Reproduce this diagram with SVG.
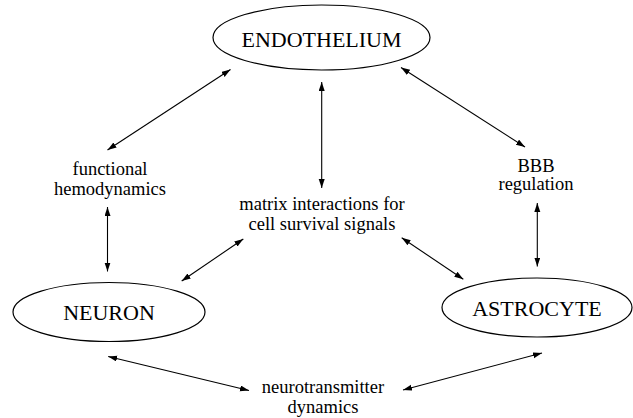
<svg xmlns="http://www.w3.org/2000/svg" width="633" height="418" viewBox="0 0 633 418">
<style>
.node ellipse{fill:#fff;stroke:#000;stroke-width:1.2}
text{font-family:"Liberation Serif","Times New Roman",serif;fill:#000;text-anchor:middle}
.big{font-size:22px}
.lbl{font-size:18.5px}
#connectors line{stroke:#000;stroke-width:1.1;marker-start:url(#ah);marker-end:url(#ah)}
</style>
<defs>
<marker id="ah" markerUnits="userSpaceOnUse" markerWidth="10" markerHeight="8" refX="9" refY="3" orient="auto-start-reverse">
<path d="M0,0 L9,3 L0,6 z" fill="#000"/>
</marker>
</defs>
<rect width="633" height="418" fill="#fff"/>
<g id="endothelium" class="node">
<ellipse cx="321.5" cy="37.5" rx="108.5" ry="32.5"/>
<text class="big" x="321.5" y="47">ENDOTHELIUM</text>
</g>
<g id="neuron" class="node">
<ellipse cx="109" cy="312" rx="96" ry="29.5"/>
<text class="big" x="109" y="320">NEURON</text>
</g>
<g id="astrocyte" class="node">
<ellipse cx="537" cy="307.5" rx="95" ry="29.5"/>
<text class="big" x="537" y="315.5">ASTROCYTE</text>
</g>
<g id="functional-hemodynamics">
<text class="lbl" x="110" y="175">functional</text>
<text class="lbl" x="110" y="195">hemodynamics</text>
</g>
<g id="matrix-interactions">
<text class="lbl" x="322" y="210">matrix interactions for</text>
<text class="lbl" x="322" y="230">cell survival signals</text>
</g>
<g id="bbb-regulation">
<text class="lbl" x="536" y="171.5">BBB</text>
<text class="lbl" x="536" y="190">regulation</text>
</g>
<g id="neurotransmitter-dynamics">
<text class="lbl" x="323" y="393">neurotransmitter</text>
<text class="lbl" x="323" y="413">dynamics</text>
</g>
<g id="connectors">
<line x1="230.5" y1="69.5" x2="107.5" y2="150"/>
<line x1="107.5" y1="207" x2="107.5" y2="271.5"/>
<line x1="321.7" y1="82" x2="321.7" y2="188"/>
<line x1="401" y1="67.5" x2="525" y2="147"/>
<line x1="537.3" y1="203" x2="537.3" y2="266.5"/>
<line x1="243.3" y1="239" x2="181.7" y2="281"/>
<line x1="401.7" y1="237.7" x2="463.3" y2="279.3"/>
<line x1="108.2" y1="356.5" x2="249" y2="390.5"/>
<line x1="403" y1="390" x2="542" y2="353"/>
</g>
</svg>
